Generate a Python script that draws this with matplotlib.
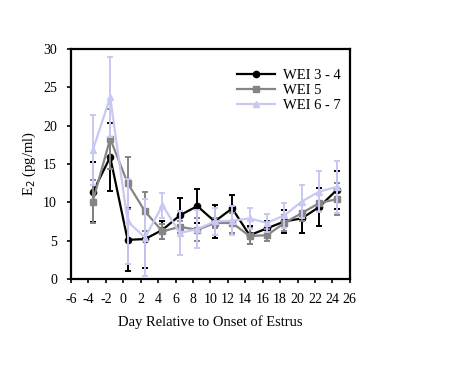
import matplotlib
matplotlib.use("Agg")
import matplotlib.pyplot as plt

# days (points sit slightly off the even ticks in the original)
days = [-3.5, -1.5, 0.5, 2.5, 4.5, 6.5, 8.5, 10.5, 12.5, 14.5, 16.5, 18.5, 20.5, 22.5, 24.5]

wei34 = [11.3, 15.9, 5.1, 5.2, 6.4, 8.3, 9.5, 7.5, 9.2, 5.7, 6.6, 7.5, 7.9, 9.4, 11.6]
wei34_err = [3.9, 4.4, 4.1, 3.8, 1.2, 2.3, 2.2, 2.1, 1.8, 1.2, 1.0, 1.5, 1.9, 2.5, 2.5]

wei5 = [10.1, 18.3, 12.5, 8.8, 6.2, 6.8, 6.4, 7.3, 7.3, 5.6, 5.7, 7.3, 8.6, 9.9, 10.4]
wei5_err = [2.8, 3.9, 3.4, 2.5, 1.0, 0.8, 1.5, 0.7, 1.3, 1.0, 0.8, 1.0, 1.0, 1.0, 2.1]

wei67 = [16.8, 23.7, 7.5, 5.4, 9.6, 6.0, 6.5, 7.5, 7.6, 7.9, 7.3, 8.3, 10.1, 11.4, 12.0]
wei67_err = [4.6, 5.2, 5.5, 5.0, 1.6, 2.9, 2.5, 1.8, 1.9, 1.4, 1.2, 1.6, 2.2, 2.7, 3.4]

plt.rcParams["font.family"] = ["Liberation Serif", "DejaVu Serif"]
plt.rcParams["axes.unicode_minus"] = False

fig = plt.figure(figsize=(4.67, 3.68), dpi=100)
ax = fig.add_axes([0.152, 0.242, 0.597, 0.625])

series = [
    ("WEI 3 - 4", wei34, wei34_err, "black", "o"),
    ("WEI 5", wei5, wei5_err, "#858585", "s"),
    ("WEI 6 - 7", wei67, wei67_err, "#c8c8f4", "^"),
]
for label, vals, err, col, mk in series:
    ax.errorbar(days, vals, yerr=err, fmt="none", ecolor=col,
                elinewidth=1.4, capsize=2.5, capthick=1.4)
    ax.plot(days, vals, color=col, marker=mk, markersize=4.5,
            linewidth=1.6, label=label)

ax.set_xlim(-6, 26)
ax.set_ylim(0, 30)
ax.set_xticks(range(-6, 27, 2))
ax.set_yticks(range(0, 31, 5))
ax.tick_params(direction="out", length=3, width=1.2, labelsize=10, pad=7)
for s in ax.spines.values():
    s.set_linewidth(1.6)

ax.set_xlabel("Day Relative to Onset of Estrus", fontsize=10.5, labelpad=7)
ax.set_ylabel("E$_2$ (pg/ml)", fontsize=10.5, labelpad=4)

ax.legend(loc="upper left", frameon=False, fontsize=10.5, handlelength=2.6,
          handletextpad=0.5, labelspacing=0.12, bbox_to_anchor=(0.55, 0.97))

fig.savefig("out.png", dpi=100)
